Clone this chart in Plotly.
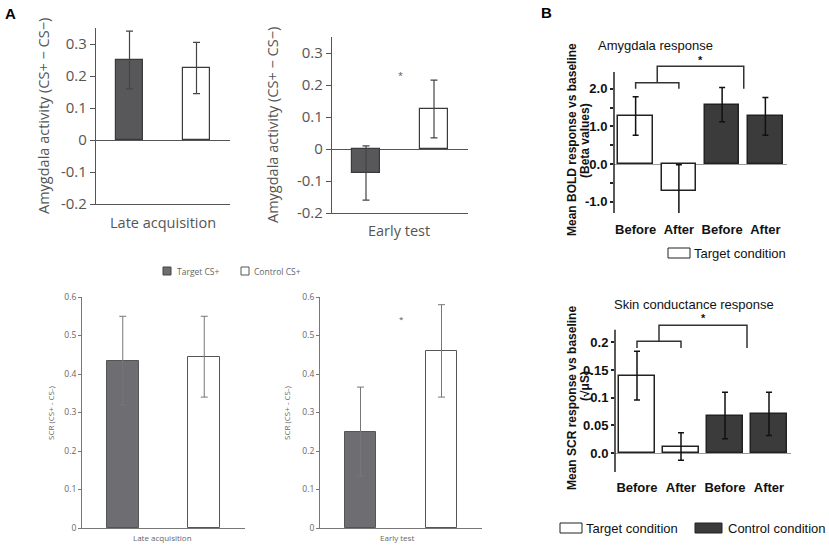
import plotly.graph_objects as go

W, H = 829, 546

# ---- Panel A data (amygdala, CS+ minus CS-) ----
conditions_a = ["Target CS+", "Control CS+"]
amy_late = [0.25, 0.225]
amy_late_err = [0.09, 0.08]
amy_early = [-0.075, 0.125]
amy_early_err = [0.085, 0.09]

# ---- Panel A data (SCR) ----
scr_late = [0.435, 0.445]
scr_late_err = [0.115, 0.105]
scr_early = [0.25, 0.46]
scr_early_err = [0.116, 0.12]

# ---- Panel B data ----
phases = ["Before", "After", "Before", "After"]
groups_b = ["Target", "Target", "Control", "Control"]
bold_vals = [1.28, -0.72, 1.58, 1.27]
bold_err = [0.51, 0.7, 0.455, 0.5]
scr_b_vals = [0.14, 0.012, 0.068, 0.071]
scr_b_err = [0.044, 0.025, 0.042, 0.039]

amy_ticks = [-0.2, -0.1, 0, 0.1, 0.2, 0.3]
amy_ticktext = ["-0.2", "-0.1", "0", "0.1", "0.2", "0.3"]
scr_ticks = [0, 0.1, 0.2, 0.3, 0.4, 0.5, 0.6]
scr_ticktext = ["0", "0.1", "0.2", "0.3", "0.4", "0.5", "0.6"]
bold_ticks = [-1, 0, 1, 2]
bold_ticktext = ["-1.0", "0.0", "1.0", "2.0"]
scrb_ticks = [0, 0.05, 0.1, 0.15, 0.2]
scrb_ticktext = ["0.0", "0.05", "0.1", "0.15", "0.2"]


def dom_x(left, right):
    return [left / W, right / W]


def dom_y(top, bottom):
    return [1 - bottom / H, 1 - top / H]


def px(x):
    return x / W


def py(y):
    return 1 - y / H


A_FONT = "Open Sans"
B_FONT = "Liberation Sans"
dark_a1 = "#58585b"
dark_a2 = "#6e6e72"
dark_b = "#3b3b3b"

fig = go.Figure()

# panel A top: amygdala
for i, (vals, err) in enumerate([(amy_late, amy_late_err), (amy_early, amy_early_err)]):
    n = "" if i == 0 else str(i + 1)
    fig.add_trace(go.Bar(
        x=conditions_a, y=vals, width=0.4,
        marker=dict(color=[dark_a1, "white"], line=dict(color="#3a3a3a", width=1.2)),
        error_y=dict(type="data", array=err, color="#444", thickness=1.2, width=3.5),
        xaxis="x" + n, yaxis="y" + n, showlegend=False
    ))

# panel A bottom: SCR
for i, (vals, err) in enumerate([(scr_late, scr_late_err), (scr_early, scr_early_err)]):
    n = str(i + 3)
    fig.add_trace(go.Bar(
        x=conditions_a, y=vals, width=0.39,
        marker=dict(color=[dark_a2, "white"], line=dict(color="#555", width=1)),
        error_y=dict(type="data", array=err, color="#777", thickness=1, width=3.5),
        xaxis="x" + n, yaxis="y" + n, showlegend=False
    ))

# panel B
b_colors = ["white" if g == "Target" else dark_b for g in groups_b]
for vals, err, n in [(bold_vals, bold_err, "5"), (scr_b_vals, scr_b_err, "6")]:
    fig.add_trace(go.Bar(
        x=list(range(len(phases))), y=vals, width=0.8,
        marker=dict(color=b_colors, line=dict(color="#222", width=1.5)),
        error_y=dict(type="data", array=err, color="#111", thickness=1.5, width=3),
        xaxis="x" + n, yaxis="y" + n, showlegend=False
    ))

# ---- axes ----
a_top = dict(showgrid=False, ticks="outside", ticklen=5, tickwidth=1.2, tickcolor="#555",
             showline=True, linecolor="#555", linewidth=1.2, zeroline=True,
             zerolinecolor="#555", zerolinewidth=1.2, range=[-0.2, 0.35],
             tickvals=amy_ticks, ticktext=amy_ticktext,
             tickfont=dict(family=A_FONT, size=15, color="#555"), automargin=False)
a_top_x = dict(showgrid=False, showline=True, linecolor="#555", linewidth=1.2,
               showticklabels=False, ticks="", range=[-0.5, 1.5], zeroline=False,
               automargin=False)
a_bot = dict(showgrid=False, ticks="outside", ticklen=3, tickwidth=1, tickcolor="#777",
             showline=True, linecolor="#777", linewidth=1, zeroline=False,
             range=[0, 0.6], tickvals=scr_ticks, ticktext=scr_ticktext,
             tickfont=dict(family=A_FONT, size=8.5, color="#666"), automargin=False)
a_bot_x = dict(showgrid=False, showline=True, linecolor="#777", linewidth=1,
               showticklabels=False, ticks="", range=[-0.5, 1.5], zeroline=False,
               automargin=False)

fig.update_layout(
    xaxis=dict(a_top_x, domain=dom_x(96, 230), anchor="y"),
    yaxis=dict(a_top, domain=dom_y(28, 204), anchor="x"),
    xaxis2=dict(a_top_x, domain=dom_x(332, 468), anchor="y2"),
    yaxis2=dict(a_top, domain=dom_y(37, 213), anchor="x2"),
    xaxis3=dict(a_bot_x, domain=dom_x(82, 245), anchor="y3"),
    yaxis3=dict(a_bot, domain=dom_y(297, 528), anchor="x3"),
    xaxis4=dict(a_bot_x, domain=dom_x(320, 482), anchor="y4"),
    yaxis4=dict(a_bot, domain=dom_y(297, 528), anchor="x4"),
)

b_x = dict(showgrid=False, showline=False, zeroline=False, ticks="", range=[-0.5, 3.5],
           tickvals=list(range(len(phases))), ticktext=phases,
           tickfont=dict(family=B_FONT, size=13, color="#111", weight="bold"),
           automargin=False)
b_y = dict(showgrid=False, showline=False, ticks="outside", ticklen=3, tickwidth=1.5,
           tickcolor="#222", zeroline=True, zerolinecolor="#999", zerolinewidth=1,
           ticklabelstandoff=0,
           tickfont=dict(family=B_FONT, size=13, color="#111", weight="bold"),
           automargin=False)
fig.update_layout(
    xaxis5=dict(b_x, domain=dom_x(614, 787), anchor="y5", ticklabelstandoff=7),
    yaxis5=dict(b_y, domain=dom_y(55, 213), anchor="x5", range=[-1.3, 2.9],
                tickvals=bold_ticks, ticktext=bold_ticktext,
                minor=dict(tickvals=[-0.5, 0.5, 1.5], ticks="outside", ticklen=3,
                           tickwidth=1.5, tickcolor="#222", showgrid=False)),
    xaxis6=dict(b_x, domain=dom_x(615, 791), anchor="y6", ticklabelstandoff=6),
    yaxis6=dict(b_y, domain=dom_y(312, 472), anchor="x6", range=[-0.034, 0.255],
                tickvals=scrb_ticks, ticktext=scrb_ticktext),
)

# panel B axis lines (shorter than the plotted range) and significance brackets
fig.add_shape(type="line", xref="x5 domain", yref="y5", x0=0, x1=0, y0=-1.3, y1=2.45,
              line=dict(color="#222", width=1.5))
fig.add_shape(type="line", xref="x6 domain", yref="y6", x0=0, x1=0, y0=-0.034, y1=0.223,
              line=dict(color="#222", width=1.5))
fig.add_shape(type="path", xref="x5", yref="y5",
              path="M0,2.0 L0,2.16 L1,2.16 L1,2.0 M0.5,2.16 L0.5,2.6 L2.5,2.6 L2.5,2.0",
              line=dict(color="#333", width=1.5))
fig.add_shape(type="path", xref="x6", yref="y6",
              path="M0,0.19 L0,0.202 L1,0.202 L1,0.19 M0.5,0.202 L0.5,0.231 L2.5,0.231 L2.5,0.19",
              line=dict(color="#333", width=1.5))

# ---- legend keys ----
key_boxes = [
    (163, 171, 267, 275, dark_a2, "#444"),
    (241, 249, 267, 275, "white", "#555"),
    (668, 690, 248, 258, "white", "#222"),
    (560, 582, 523, 533, "white", "#222"),
    (695, 722, 523, 533, dark_b, "#222"),
]
for x0, x1, y0, y1, fc, lc in key_boxes:
    fig.add_shape(type="rect", xref="paper", yref="paper", x0=px(x0), x1=px(x1),
                  y0=py(y1), y1=py(y0), fillcolor=fc, line=dict(color=lc, width=1))


# ---- text ----
def label(x, y, text, size, color, family, angle=0, xanchor="center"):
    fig.add_annotation(x=px(x), y=py(y), xref="paper", yref="paper", text=text,
                       showarrow=False, textangle=angle, xanchor=xanchor, yanchor="middle",
                       font=dict(size=size, color=color, family=family))


label(10, 13, "<b>A</b>", 15, "#000", B_FONT)
label(546, 12, "<b>B</b>", 15, "#000", B_FONT)
label(43, 116, "Amygdala activity (CS+ \u2212 CS\u2212)", 14.5, "#555", A_FONT, angle=-90)
label(273, 125, "Amygdala activity (CS+ \u2212 CS\u2212)", 14.5, "#555", A_FONT, angle=-90)
label(163, 222, "Late acquisition", 14.5, "#555", A_FONT)
label(399, 230, "Early test", 14.5, "#555", A_FONT)
label(50, 413, "SCR (CS+ - CS-)", 8, "#666", A_FONT, angle=-90)
label(286, 413, "SCR (CS+ - CS-)", 8, "#666", A_FONT, angle=-90)
label(162, 537, "Late acquisition", 8, "#666", A_FONT)
label(397, 537, "Early test", 8, "#666", A_FONT)
label(175, 271, "Target CS+", 8.5, "#666", A_FONT, xanchor="left")
label(252, 271, "Control CS+", 8.5, "#666", A_FONT, xanchor="left")

label(655, 45, "Amygdala response", 13, "#111", B_FONT)
label(694, 304, "Skin conductance response", 13, "#111", B_FONT)
label(572, 140, "<b>Mean BOLD response vs baseline</b>", 12, "#111", B_FONT, angle=-90)
label(585, 141, "<b>(Beta values)</b>", 12, "#111", B_FONT, angle=-90)
label(572, 398, "<b>Mean SCR response vs baseline</b>", 12, "#111", B_FONT, angle=-90)
label(585, 386, "<b>(\u221a\u03bcS)</b>", 12, "#111", B_FONT, angle=-90)
label(692, 253, "Target condition", 13, "#111", B_FONT, xanchor="left")
label(584, 528, "Target condition", 13, "#111", B_FONT, xanchor="left")
label(726, 528, "Control condition", 13, "#111", B_FONT, xanchor="left")

# significance stars
for xr, yr, y, size in [("x2", "y2", 0.23, 9), ("x4", "y4", 0.543, 8)]:
    fig.add_annotation(x=0.5, y=y, xref=xr, yref=yr, text="*", showarrow=False,
                       font=dict(size=size, color="#555", family=A_FONT))
fig.add_annotation(x=1.5, y=2.78, xref="x5", yref="y5", text="<b>*</b>", showarrow=False,
                   font=dict(size=11, color="#111", family=B_FONT))
fig.add_annotation(x=1.5, y=0.244, xref="x6", yref="y6", text="<b>*</b>", showarrow=False,
                   font=dict(size=11, color="#111", family=B_FONT))

fig.update_layout(
    width=W, height=H,
    margin=dict(l=0, r=0, t=0, b=0),
    paper_bgcolor="white", plot_bgcolor="white",
    showlegend=False, bargap=0,
)

# the page body has a default 8px margin; drop it so the figure fills the window
fig.write_html("out.html", config={"displayModeBar": False},
               post_script="document.body.style.margin='0';")
